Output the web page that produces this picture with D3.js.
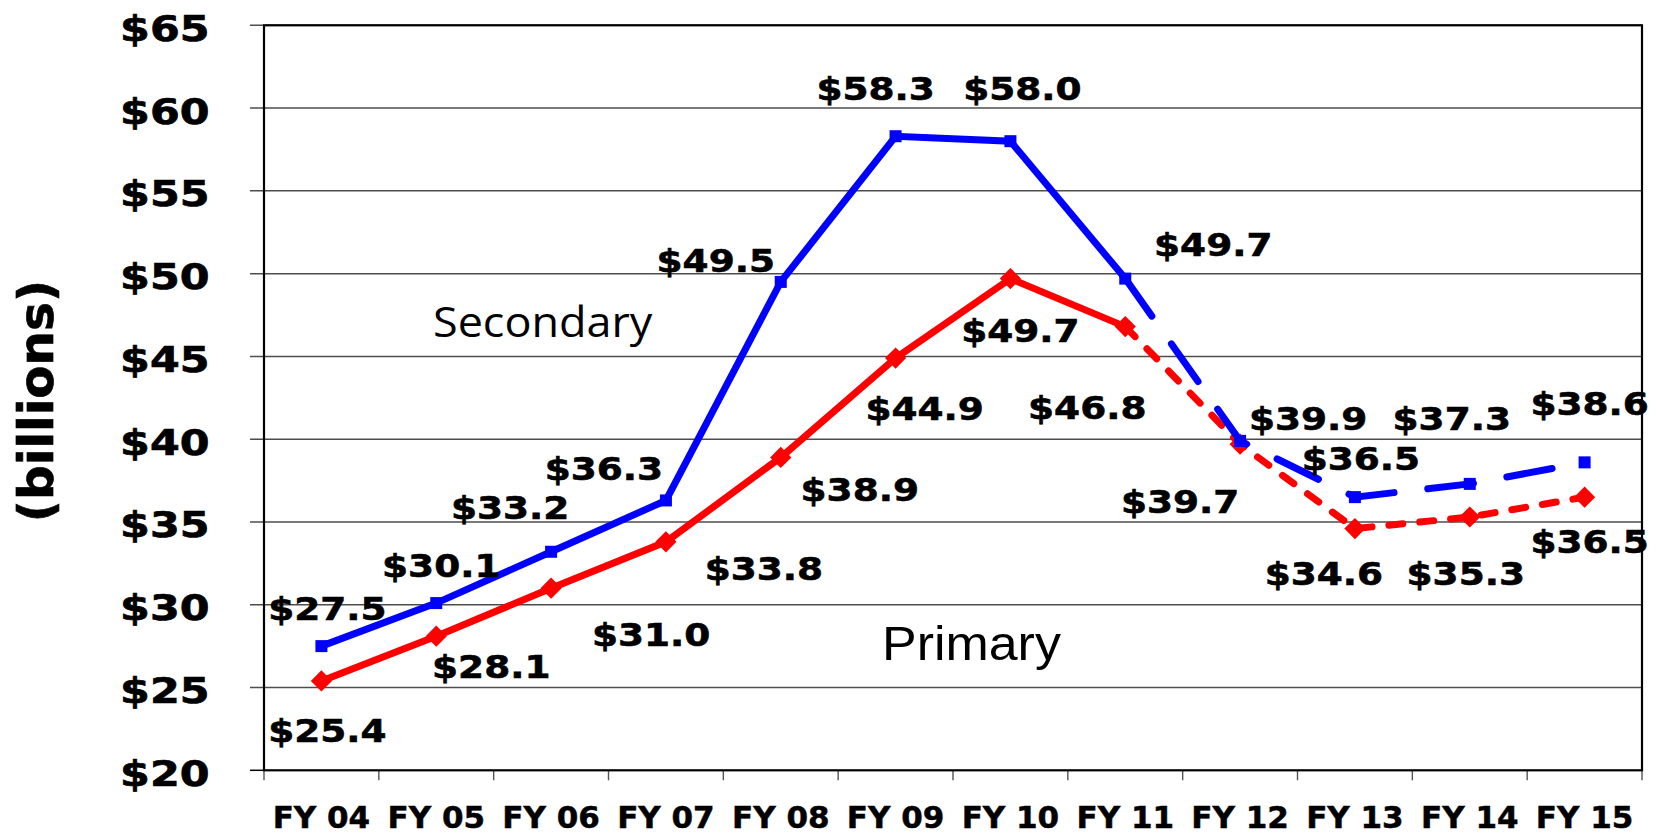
<!DOCTYPE html>
<html>
<head>
<meta charset="utf-8">
<script src="https://cdn.jsdelivr.net/npm/d3@7"></script>
<style>
  html, body { margin: 0; padding: 0; background: #fff; }
  svg { display: block; }
</style>
</head>
<body>
<svg id="chart" width="1661" height="836"></svg>
<script>
// ---- data ----
const categories = ["FY 04","FY 05","FY 06","FY 07","FY 08","FY 09","FY 10","FY 11","FY 12","FY 13","FY 14","FY 15"];
const secondaryValues = [27.5, 30.1, 33.2, 36.3, 49.5, 58.3, 58.0, 49.7, 39.9, 36.5, 37.3, 38.6];
const primaryValues   = [25.4, 28.1, 31.0, 33.8, 38.9, 44.9, 49.7, 46.8, 39.7, 34.6, 35.3, 36.5];
const yTicks = [20, 25, 30, 35, 40, 45, 50, 55, 60, 65];
const projectedFrom = "FY 11"; // dashed from here on

// label placement offsets (layout only)
const secLabelDx = [6, 5, -41, -62, -65, -20, 12, 88, 68, 6, -18, 5];
const secLabelDy = [-26, -26, -33, -20, -10, -36, -41, -23, -11, -27, -54, -47];
const priLabelDx = [6, 55, 100, 98, 79, 29, 10, -38, -60, -31, -4, 5];
const priLabelDy = [61, 42, 58, 38, 44, 62, 63, 92, 69, 56, 68, 56];

(function () {
// ---- layout ----
const pLeft = 264, pRight = 1642, pTop = 25.3, pBottom = 770.3;
const svg = d3.select("#chart");

const x = d3.scaleBand().domain(categories).range([pLeft, pRight]).paddingInner(0).paddingOuter(0);
const y = d3.scaleLinear().domain([20, 65]).range([pBottom, pTop]);
const cx = c => x(c) + x.bandwidth() / 2;

const bold = "'DejaVu Sans', Verdana, sans-serif";

// gridlines
svg.append("g").selectAll("line").data(yTicks.filter(t => t > 20)).join("line")
  .attr("x1", pLeft - 14).attr("x2", pRight)
  .attr("y1", d => y(d)).attr("y2", d => y(d))
  .attr("stroke", "#4d4d4d").attr("stroke-width", 1.5);
svg.append("line").attr("x1", pLeft - 14).attr("x2", pLeft).attr("y1", y(20)).attr("y2", y(20))
  .attr("stroke", "#000").attr("stroke-width", 1.5);

// x ticks at category boundaries
const bounds = categories.map(c => x(c)).concat([pRight]);
svg.append("g").selectAll("line").data(bounds).join("line")
  .attr("x1", d => d).attr("x2", d => d)
  .attr("y1", pBottom).attr("y2", pBottom + 10)
  .attr("stroke", "#555").attr("stroke-width", 1.4);

// frame
svg.append("rect").attr("x", pLeft).attr("y", pTop).attr("width", pRight - pLeft).attr("height", pBottom - pTop)
  .attr("fill", "none").attr("stroke", "#000").attr("stroke-width", 2.2);

// y tick labels
svg.append("g").selectAll("text").data(yTicks).join("text")
  .attr("transform", d => `translate(209.5,${y(d) + 15.5}) scale(1.19,1)`)
  .attr("text-anchor", "end")
  .attr("font-family", bold).attr("font-weight", "bold").attr("font-size", 36)
  .attr("fill", "#000").attr("stroke", "#000").attr("stroke-width", 0.7)
  .text(d => "$" + d);

// x tick labels
svg.append("g").selectAll("text").data(categories).join("text")
  .attr("x", d => cx(d)).attr("y", 828)
  .attr("text-anchor", "middle")
  .attr("font-family", bold).attr("font-weight", "bold").attr("font-size", 31)
  .attr("fill", "#000").attr("stroke", "#000").attr("stroke-width", 0.5)
  .text(d => d);

// y axis title
svg.append("text")
  .attr("transform", "translate(53,401) rotate(-90)")
  .attr("text-anchor", "middle")
  .attr("font-family", bold).attr("font-weight", "bold").attr("font-size", 48.5)
  .attr("fill", "#000").attr("stroke", "#000").attr("stroke-width", 0.7)
  .text("(billions)");

// lines
const idxSplit = categories.indexOf(projectedFrom);
const line = d3.line().x(d => cx(d.c)).y(d => y(d.v));
function drawSeries(values, color, dash) {
  const pts = values.map((v, i) => ({ c: categories[i], v }));
  svg.append("path").datum(pts.slice(0, idxSplit + 1)).attr("d", line)
    .attr("fill", "none").attr("stroke", color).attr("stroke-width", 7)
    .attr("stroke-linejoin", "miter");
  svg.append("path").datum(pts.slice(idxSplit)).attr("d", line)
    .attr("fill", "none").attr("stroke", color).attr("stroke-width", 7)
    .attr("stroke-dasharray", dash).attr("stroke-linecap", "round");
  return pts;
}

const priPts = drawSeries(primaryValues, "#ff0000", "14,17");
svg.append("g").selectAll("rect").data(priPts).join("rect")
  .attr("x", -7.5).attr("y", -7.5).attr("width", 15).attr("height", 15)
  .attr("transform", d => `translate(${cx(d.c)},${y(d.v)}) rotate(45)`)
  .attr("fill", "#ff0000");

const secPts = drawSeries(secondaryValues, "#0000ff", "46,34");
svg.append("g").selectAll("rect").data(secPts).join("rect")
  .attr("x", d => cx(d.c) - 6).attr("y", d => y(d.v) - 6)
  .attr("width", 12).attr("height", 12)
  .attr("fill", "#0000ff");

// data labels
function labels(pts, dx, dy) {
  svg.append("g").selectAll("text").data(pts).join("text")
    .attr("transform", (d, i) => `translate(${cx(d.c) + dx[i]},${y(d.v) + dy[i]}) scale(1.17,1)`)
    .attr("text-anchor", "middle")
    .attr("font-family", bold).attr("font-weight", "bold").attr("font-size", 32)
    .attr("fill", "#000").attr("stroke", "#000").attr("stroke-width", 0.6)
    .text(d => "$" + d.v.toFixed(1));
}
labels(secPts, secLabelDx, secLabelDy);
labels(priPts, priLabelDx, priLabelDy);

// series name annotations
svg.append("text")
  .attr("transform", "translate(433,337) scale(1.07,1)")
  .attr("font-family", "'Open Sans', 'Noto Sans', sans-serif").attr("font-size", 42)
  .attr("fill", "#000").text("Secondary");
svg.append("text")
  .attr("transform", "translate(882,660) scale(1.06,1)")
  .attr("font-family", "'Liberation Sans', Arial, sans-serif").attr("font-size", 49)
  .attr("fill", "#000").text("Primary");
})();
</script>
</body>
</html>
